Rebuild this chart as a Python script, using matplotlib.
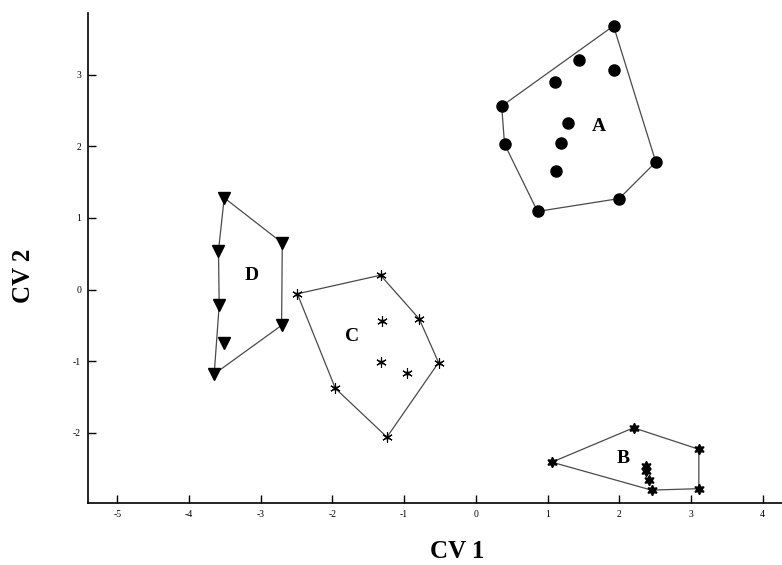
import numpy as np
import matplotlib
matplotlib.use('Agg')
import matplotlib.pyplot as plt

plt.rcParams['font.family'] = ['Liberation Serif', 'DejaVu Serif']
plt.rcParams['axes.unicode_minus'] = False

# canonical variate scores per group
a_x = [1.92, 1.44, 1.92, 1.11, 0.36, 1.29, 0.40, 1.19, 1.12, 2.51, 2.00, 0.86]
a_y = [3.68, 3.20, 3.06, 2.90, 2.56, 2.33, 2.03, 2.04, 1.65, 1.78, 1.27, 1.09]
b_x = [1.06, 2.20, 3.11, 3.11, 2.45, 2.37, 2.38, 2.41]
b_y = [-2.41, -1.93, -2.23, -2.78, -2.80, -2.46, -2.53, -2.66]
c_x = [-2.49, -1.33, -0.79, -1.31, -0.52, -1.33, -0.96, -1.96, -1.24]
c_y = [-0.06, 0.20, -0.41, -0.44, -1.02, -1.01, -1.16, -1.38, -2.06]
d_x = [-3.51, -2.70, -3.59, -3.58, -2.71, -3.52, -3.65]
d_y = [1.28, 0.65, 0.54, -0.22, -0.50, -0.75, -1.18]

# hull vertices (indices into each group)
a_hull = [0, 9, 10, 11, 6, 4]
b_hull = [0, 1, 2, 3, 4]
c_hull = [0, 1, 2, 4, 8, 7]
d_hull = [0, 1, 4, 6, 3, 2]

groups = [
    ('A', a_x, a_y, a_hull, 'o', 8, (1.72, 2.28)),
    ('B', b_x, b_y, b_hull, (6, 1, 0), 7.5, (2.05, -2.36)),
    ('C', c_x, c_y, c_hull, (6, 2, 0), 7.5, (-1.72, -0.66)),
    ('D', d_x, d_y, d_hull, 'v', 8, (-3.12, 0.19)),
]

fig = plt.figure(figsize=(7.82, 5.65), dpi=100)
ax = fig.add_axes([88/782, 62/565, 1 - 88/782, (503 - 13)/565])

for name, gx, gy, hull, mk, ms, lab in groups:
    hx = [gx[i] for i in hull] + [gx[hull[0]]]
    hy = [gy[i] for i in hull] + [gy[hull[0]]]
    ax.plot(hx, hy, color='#4a4a4a', lw=0.9, zorder=1)
    if mk == (6, 2, 0):
        ax.plot(gx, gy, ls='none', marker=mk, ms=ms, mec='black', mew=0.8, zorder=2)
        ax.plot(gx, gy, ls='none', marker='o', ms=2, color='black', zorder=3)
    else:
        ax.plot(gx, gy, ls='none', marker=mk, ms=ms, color='black', mec='black', zorder=2)
    ax.text(lab[0], lab[1], name, fontsize=14, fontweight='bold', ha='center', va='center')

ax.set_xlim(-5.41, 4.27)
ax.set_ylim(-2.98, 3.86)
ax.set_xticks(np.arange(-5, 5))
ax.set_yticks([-2, -1, 0, 1, 2, 3])
ax.tick_params(direction='in', length=6, width=1, labelsize=7, pad=5)
ax.spines['top'].set_visible(False)
ax.spines['right'].set_visible(False)
ax.spines['left'].set_linewidth(1.2)
ax.spines['bottom'].set_linewidth(1.2)

fig.text(457/782, 1 - 551/565, 'CV 1', fontsize=18, fontweight='bold', ha='center', va='center')
fig.text(24/782, 1 - 276/565, 'CV 2', fontsize=18, fontweight='bold', ha='center', va='center',
         rotation=90)

fig.savefig('out.png', dpi=100)
